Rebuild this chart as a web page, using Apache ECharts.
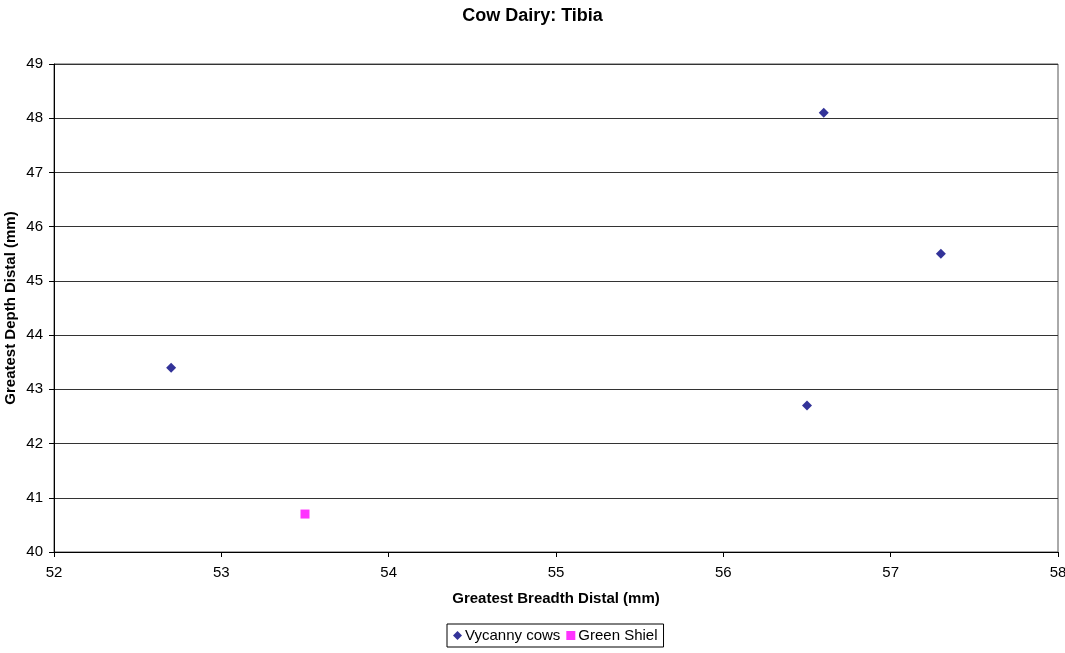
<!DOCTYPE html>
<html>
<head>
<meta charset="utf-8">
<script src="https://cdn.jsdelivr.net/npm/echarts@6/dist/echarts.min.js"></script>
<style>
  html, body { margin: 0; padding: 0; background: #fff; }
  #chart { width: 1065px; height: 653px; }
</style>
</head>
<body>
<div id="chart"></div>
<script>
// data
var vycannyCows = [[52.7, 43.4], [56.6, 48.1], [57.3, 45.5], [56.5, 42.7]];
var greenShiel = [[53.5, 40.7]];
var seriesNames = ['Vycanny cows', 'Green Shiel'];

var chart = echarts.init(document.getElementById('chart'));

var fontName = 'Liberation Sans, Arial';
var axisFont = { fontFamily: fontName, fontSize: 15, color: '#000' };
var nameFont = { fontFamily: fontName, fontSize: 15, fontWeight: 'bold', color: '#000' };

var option = {
    animation: false,
    title: {
        text: 'Cow Dairy: Tibia',
        left: 'center',
        top: 2,
        textStyle: { fontFamily: fontName, fontSize: 18, fontWeight: 'bold', color: '#000' }
    },
    legend: {
        data: [
            { name: seriesNames[0], icon: 'diamond' },
            { name: seriesNames[1], icon: 'rect' }
        ],
        bottom: 6,
        left: 447,
        itemWidth: 9,
        itemHeight: 9,
        itemGap: 6,
        padding: [4, 6],
        borderColor: '#000',
        borderWidth: 1,
        borderRadius: 0,
        textStyle: { fontFamily: fontName, fontSize: 15, color: '#000', padding: [0, 0, 0, -2] }
    },
    grid: {
        left: 54, right: 7, top: 64, bottom: 101,
        outerBoundsMode: 'none',
        containLabel: false,
        show: true, borderColor: '#555', borderWidth: 1
    },
    xAxis: {
        type: 'value',
        min: 52, max: 58, interval: 1,
        name: 'Greatest Breadth Distal (mm)',
        nameLocation: 'middle',
        nameGap: 39,
        nameMoveOverlap: false,
        nameTextStyle: nameFont,
        axisLine: { onZero: false, lineStyle: { color: '#000' } },
        axisTick: { show: true, length: 5, lineStyle: { color: '#000' } },
        axisLabel: Object.assign({ margin: 13 }, axisFont),
        splitLine: { show: false }
    },
    yAxis: {
        type: 'value',
        min: 40, max: 49, interval: 1,
        name: 'Greatest Depth Distal (mm)',
        nameLocation: 'middle',
        nameGap: 36,
        nameMoveOverlap: false,
        nameTextStyle: nameFont,
        axisLine: { onZero: false, lineStyle: { color: '#000' } },
        axisTick: { show: true, length: 5, lineStyle: { color: '#000' } },
        axisLabel: Object.assign({ margin: 11 }, axisFont),
        splitLine: { show: true, lineStyle: { color: '#333', width: 1 } }
    },
    series: [
        {
            name: seriesNames[0],
            type: 'scatter',
            symbol: 'diamond',
            symbolSize: 10,
            itemStyle: { color: '#000080' },
            data: vycannyCows
        },
        {
            name: seriesNames[1],
            type: 'scatter',
            symbol: 'rect',
            symbolSize: 9,
            itemStyle: { color: '#ff00ff' },
            data: greenShiel
        }
    ]
};

chart.setOption(option);
</script>
</body>
</html>
